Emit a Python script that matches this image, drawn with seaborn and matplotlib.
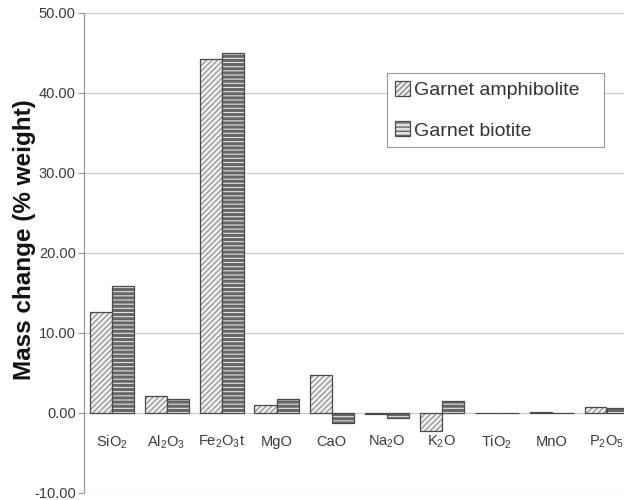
import matplotlib
matplotlib.use("Agg")
import matplotlib.pyplot as plt
from matplotlib.patches import Rectangle
import seaborn as sns
import pandas as pd

# Oxide categories and mass changes (% weight) for each rock type
oxides = ["SiO$_2$", "Al$_2$O$_3$", "Fe$_2$O$_3$t", "MgO", "CaO",
          "Na$_2$O", "K$_2$O", "TiO$_2$", "MnO", "P$_2$O$_5$"]
garnet_amphibolite = [12.6, 2.1, 44.3, 1.0, 4.7, -0.1, -2.3, 0.0, 0.1, 0.7]
garnet_biotite = [15.9, 1.7, 45.0, 1.8, -1.2, -0.6, 1.5, 0.0, -0.05, 0.6]
series_names = ["Garnet amphibolite", "Garnet biotite"]
y_ticks = [-10, 0, 10, 20, 30, 40, 50]

df = pd.DataFrame({
    "oxide": oxides * 2,
    "change": garnet_amphibolite + garnet_biotite,
    "rock": [series_names[0]] * len(oxides) + [series_names[1]] * len(oxides),
})

sns.set_theme(style="white")
plt.rcParams["font.family"] = ["Liberation Sans", "DejaVu Sans"]
plt.rcParams["mathtext.fontset"] = "custom"
plt.rcParams["mathtext.rm"] = "Liberation Sans"

fig = plt.figure(figsize=(6.24, 5.0), dpi=100)
ax = fig.add_axes([84 / 624, 7 / 500, 550 / 624, 480 / 500])

sns.barplot(data=df, x="oxide", y="change", hue="rock", order=oxides,
            hue_order=series_names, palette=["#e4e4e4", "#dadada"],
            width=0.8, ax=ax, legend=False, errorbar=None, zorder=3)

styles = [
    dict(hatch="//////", face="#eeeeee", edge="#4a4a4a", hcolor="#8a8a8a", hlw=0.8),
    dict(hatch="----", face="#e2e2e2", edge="#4a4a4a", hcolor="#666666", hlw=2.2),
]
for cont, st in zip(ax.containers, styles):
    for bar in cont:
        bar.set_facecolor(st["face"])
        bar.set_edgecolor(st["edge"])
        bar.set_linewidth(0.9)
        bar.set_hatch(st["hatch"])
        bar._hatch_color = matplotlib.colors.to_rgba(st["hcolor"])
        bar.set_hatch_linewidth(st["hlw"])

ax.set_xlim(-0.5, len(oxides) - 0.5)
ax.set_ylim(-10, 50)
ax.set_yticks(y_ticks)
ax.set_yticklabels([f"{v:.2f}" for v in y_ticks], fontsize=10.5, color="#3a3a3a")
ax.tick_params(axis="y", direction="out", length=4, width=0.8, color="#999999", pad=2, left=True)
ax.set_xticks([])
ax.set_xlabel("")
ax.set_ylabel("Mass change (% weight)", fontsize=17.5, fontweight="bold", color="#111111")
ax.yaxis.set_label_coords(-0.087, 0.527)

ax.grid(axis="y", color="#c8c8c8", linewidth=0.9, zorder=0)
for side in ["top", "right", "bottom"]:
    ax.spines[side].set_visible(False)
ax.spines["left"].set_color("#999999")
ax.spines["left"].set_linewidth(0.9)

# category names sit just below the zero line
for i, name in enumerate(oxides):
    ax.text(i, -3.6, name, ha="center", va="center", fontsize=10.5, color="#3a3a3a")

# legend box with extra room on the right
ax.add_patch(Rectangle((0.551, 0.721), 0.394, 0.154, transform=ax.transAxes,
                       facecolor="white", edgecolor="#9a9a9a", linewidth=0.8,
                       zorder=4))
leg = ax.legend(ax.containers, series_names, loc="upper left",
                bbox_to_anchor=(0.551, 0.875), fontsize=14, frameon=False,
                handlelength=0.8, handleheight=0.8, handletextpad=0.2,
                labelspacing=1.15, borderpad=0.4, borderaxespad=0)
leg.set_zorder(5)
for t in leg.get_texts():
    t.set_color("#333333")

fig.savefig("out.png", dpi=100)
